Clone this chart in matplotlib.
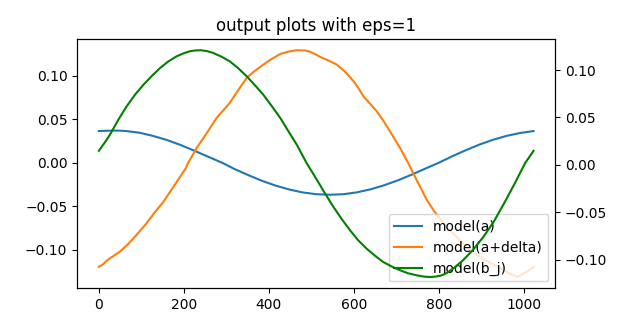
import matplotlib
matplotlib.use("Agg")
import matplotlib.pyplot as plt

# model(a)
x_a = [0, 16, 35, 50, 64, 96, 128, 160, 192, 224, 256, 290, 320, 352, 384, 416, 448, 480, 512, 545,
       576, 608, 640, 672, 704, 736, 768, 800, 832, 864, 896, 928, 960, 992, 1023]
y_a = [0.0365, 0.0368, 0.0370, 0.0369, 0.0365, 0.0345, 0.0308, 0.0262, 0.0205, 0.0140, 0.0072, 0.0,
       -0.0074, -0.0143, -0.0208, -0.0263, -0.0308, -0.0342, -0.0362, -0.0368, -0.0362, -0.0340,
       -0.0305, -0.0258, -0.0202, -0.0137, -0.0068, 0.0, 0.0076, 0.0145, 0.0210, 0.0265, 0.0310,
       0.0343, 0.0365]

# model(a+delta)
x_ad = [0, 6, 10, 18, 26, 49, 70, 88, 112, 130, 152, 175, 199, 205, 209, 214, 230, 255, 277, 308,
        330, 348, 365, 387, 405, 427, 445, 466, 485, 497, 513, 524, 540, 560, 580, 599, 610, 623,
        640, 654, 670, 685, 699, 709, 728, 748, 772, 790, 818, 849, 870, 896, 920, 943, 965, 985,
        1005, 1023]
y_ad = [-0.1198, -0.1180, -0.1167, -0.1130, -0.1100, -0.1025, -0.0930, -0.0833, -0.0698, -0.0580,
        -0.0449, -0.0280, -0.0104, -0.0060, -0.0010, 0.0030, 0.0169, 0.0350, 0.0515, 0.0688,
        0.0850, 0.0976, 0.1050, 0.1129, 0.1190, 0.1252, 0.1278, 0.1295, 0.1292, 0.1278,
        0.1240, 0.1210, 0.1178, 0.1129, 0.1045, 0.0940, 0.0865, 0.0762, 0.0670, 0.0592,
        0.0480, 0.0362, 0.0250, 0.0169, -0.0003, -0.0200, -0.0430, -0.0564, -0.0737, -0.0890,
        -0.0990, -0.1080, -0.1150, -0.1210, -0.1270, -0.1315, -0.1260, -0.1198]

# model(b_j), right axis
x_b = [0, 13, 26, 45, 65, 85, 105, 125, 144, 163, 183, 200, 214, 228, 240, 255, 269, 288, 308, 328,
       348, 367, 387, 407, 427, 446, 466, 489, 512, 532, 552, 572, 591, 610, 630, 650, 669, 690,
       709, 728, 748, 765, 780, 795, 807, 820, 835, 847, 857, 880, 905, 930, 955, 980, 1003, 1023]
y_b = [0.0148, 0.0230, 0.0317, 0.0470, 0.0615, 0.0740, 0.0846, 0.0940, 0.1022, 0.1090, 0.1146,
       0.1178, 0.1199, 0.1208, 0.1210, 0.1200, 0.1181, 0.1143, 0.1093, 0.1020, 0.0934, 0.0842,
       0.0740, 0.0620, 0.0494, 0.0355, 0.0211, 0.0018, -0.0150, -0.0300, -0.0444, -0.0575,
       -0.0690, -0.0795, -0.0884, -0.0960, -0.1025, -0.1075, -0.1113, -0.1145, -0.1166, -0.1180,
       -0.1184, -0.1178, -0.1166, -0.1138, -0.1090, -0.1045, -0.1007, -0.0900, -0.0760, -0.0595,
       -0.0395, -0.0185, 0.0018, 0.0148]

fig, ax = plt.subplots(figsize=(6.17, 3.24), dpi=100)
l1, = ax.plot(x_a, y_a, label='model(a)')
l2, = ax.plot(x_ad, y_ad, label='model(a+delta)')
ax2 = ax.twinx()
l3, = ax2.plot(x_b, y_b, color='green', label='model(b_j)')
ax.legend(handles=[l1, l2, l3], loc='lower right')
ax.set_title('output plots with eps=1')

fig.savefig('out.png')
